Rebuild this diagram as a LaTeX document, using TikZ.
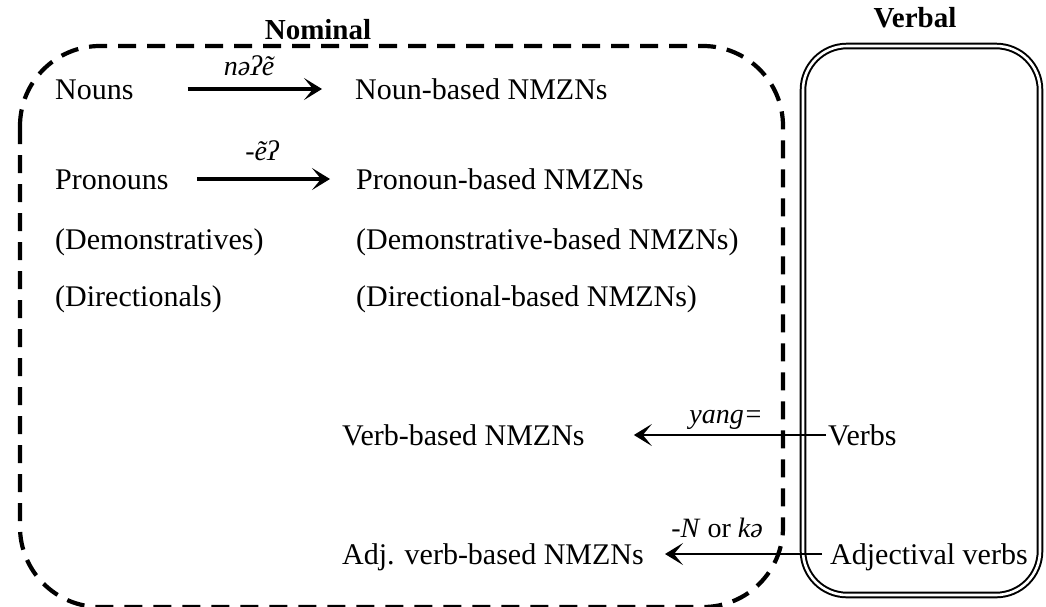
\documentclass[tikz,border=0pt]{standalone}
\usepackage{fontspec}
\setmainfont{Liberation Serif}
\usetikzlibrary{arrows.meta}
\begin{document}
\begin{tikzpicture}[x=1pt,y=-1pt,
  txt/.style={font=\fontsize{30}{36}\selectfont, inner sep=0pt, anchor=base west,
              text height=20pt, text depth=0pt},
  ttl/.style={font=\bfseries\fontsize{29}{34}\selectfont, inner sep=0pt},
  lbl/.style={font=\itshape\fontsize{28}{34}\selectfont, inner sep=0pt},
  tip/.style={-{Stealth[length=18pt,width=22pt,inset=9pt]}},
  arr/.style={tip, line width=3.6pt},
  arrv/.style={tip, line width=2.6pt},
  nomregion/.style={line width=4.2pt, dash pattern=on 18pt off 11pt, rounded corners=80pt},
  verbregion/.style={line width=2pt, double=white, double distance=2.6pt, rounded corners=44pt},
]
\useasboundingbox (0,0) rectangle (1046,606);

% regions
\draw[nomregion] (20,46) rectangle (783,607);
\draw[verbregion] (803,46) rectangle (1040,595);
\node[ttl] (nomtitle) at (318,30) {Nominal};
\node[ttl] (verbtitle) at (915,18) {Verbal};

% nominal sources
\node[txt] (nouns) at (55,99) {Nouns};
\node[txt] (pron) at (55,189) {Pronouns};
\node[txt] (dem) at (55,249) {(Demonstratives)};
\node[txt] (dir) at (55,306) {(Directionals)};

% nominalizations
\node[txt] (nounN) at (355,99) {Noun-based NMZNs};
\node[txt] (pronN) at (356,189) {Pronoun-based NMZNs};
\node[txt] (demN) at (356,249) {(Demonstrative-based NMZNs)};
\node[txt] (dirN) at (356,306) {(Directional-based NMZNs)};
\node[txt] (verbN) at (342,445) {Verb-based NMZNs};
\node[txt] (adjN) at (342,564) {Adj. verb-based NMZNs};

% verbal sources
\node[txt] (verbs) at (828,445) {Verbs};
\node[txt] (adjv) at (830,564) {Adjectival verbs};

% derivations
\draw[arr, shorten <=54pt, shorten >=33pt] (nouns.east) -- (nounN.west);
\draw[arr, shorten <=28pt, shorten >=26pt] (pron.east) -- (pronN.west);
\draw[arrv, shorten <=2pt, shorten >=49pt] (verbs.west) -- (verbN.east);
\draw[arrv, shorten <=8pt, shorten >=21pt] (adjv.west) -- (adjN.east);

% morpheme labels
\node[lbl, anchor=base] (m1) at (249,75) {nəʔẽ};
\node[lbl, anchor=base] (m2) at (262,160) {-ẽʔ};
\node[lbl, anchor=base east] (m3) at (763,423) {yang=};
\node[lbl, anchor=base east] (m4) at (763,537) {-N \textup{or} kə};
\end{tikzpicture}
\end{document}
